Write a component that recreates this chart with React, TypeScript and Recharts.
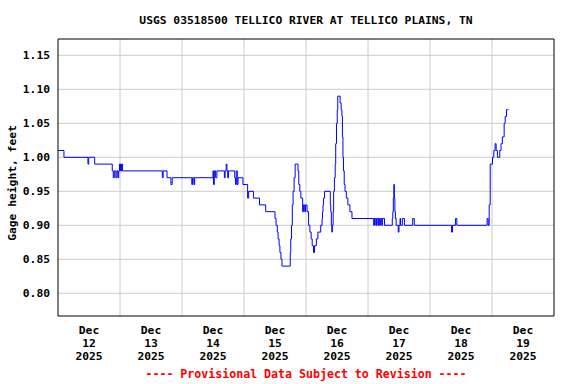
import { CartesianGrid, Line, LineChart, ReferenceArea, XAxis, YAxis } from 'recharts';

// hours since Dec 12 2025 00:00 where the gage height changes
const hours = [
  0, 2.3, 11.6, 11.9, 14.2, 21.0, 21.4, 21.8, 22.4, 22.8, 23.2, 23.5, 23.8, 24.2, 24.6, 25.0,
  40.4, 40.7, 42.2, 43.7, 44.2, 51.8, 52.1, 52.6, 52.9, 60.0, 60.2, 60.5, 61.0, 61.5, 64.4, 64.7,
  65.1, 65.4, 65.7, 66.0, 68.4, 68.7, 69.0, 69.4, 69.7, 71.6, 73.4, 73.8, 75.7, 78.0, 80.4, 84.0,
  84.4, 84.9, 85.2, 85.6, 85.9, 86.3, 86.7, 89.9, 90.1, 90.4, 90.7, 91.0, 91.4, 91.8, 92.9, 93.2,
  93.6, 94.0, 94.7, 95.0, 95.5, 95.8, 96.4, 97.0, 97.5, 98.0, 98.4, 98.9, 99.3, 100.0, 100.6, 101.7,
  102.2, 102.4, 102.6, 102.8, 103.2, 105.4, 105.6, 105.8, 106.0, 106.2, 106.5, 106.7, 107.0, 107.3,
  107.5, 107.8, 108.1, 108.3, 109.2, 109.6, 109.9, 110.1, 110.3, 110.5, 110.8, 111.1, 111.6, 112.2,
  113.0, 113.8, 122.2, 122.5, 123.0, 123.3, 123.8, 124.1, 124.5, 124.8, 125.3, 125.6, 126.4, 129.4,
  129.6, 129.8, 130.0, 130.2, 130.4, 130.6, 130.9, 131.7, 132.0, 132.4, 132.6, 133.3, 134.1, 137.3,
  137.9, 152.3, 152.7, 153.9, 154.4, 166.1, 166.5, 166.9, 167.3, 168.2, 168.7, 169.2, 169.6, 170.1,
  171.0, 171.5, 172.0, 172.7, 173.1, 173.6, 174.4,
];

const gageHeight = [
  1.01, 1.0, 0.99, 1.0, 0.99, 0.98, 0.97, 0.98, 0.97, 0.98, 0.97, 0.98, 0.99, 0.98, 0.99, 0.98,
  0.97, 0.98, 0.97, 0.96, 0.97, 0.96, 0.97, 0.96, 0.97, 0.98, 0.96, 0.98, 0.97, 0.98, 0.97, 0.98,
  0.99, 0.98, 0.97, 0.98, 0.97, 0.96, 0.98, 0.96, 0.97, 0.96, 0.94, 0.95, 0.94, 0.93, 0.92, 0.91,
  0.9, 0.89, 0.88, 0.87, 0.86, 0.85, 0.84, 0.86, 0.88, 0.9, 0.93, 0.95, 0.97, 0.99, 0.98, 0.96,
  0.95, 0.94, 0.92, 0.93, 0.92, 0.93, 0.92, 0.9, 0.89, 0.88, 0.87, 0.86, 0.87, 0.88, 0.89, 0.9,
  0.91, 0.92, 0.93, 0.94, 0.95, 0.93, 0.92, 0.9, 0.89, 0.9, 0.92, 0.95, 0.97, 0.99,
  1.02, 1.05, 1.07, 1.09, 1.08, 1.07, 1.06, 1.03, 1.0, 0.98, 0.96, 0.95, 0.94, 0.93,
  0.92, 0.91, 0.9, 0.91, 0.9, 0.91, 0.9, 0.91, 0.9, 0.91, 0.9, 0.91, 0.9, 0.91,
  0.92, 0.94, 0.96, 0.94, 0.92, 0.91, 0.9, 0.89, 0.9, 0.91, 0.9, 0.91, 0.9, 0.91,
  0.9, 0.89, 0.9, 0.91, 0.9, 0.91, 0.9, 0.93, 0.99, 1.0, 1.01, 1.02, 1.01, 1.0,
  1.01, 1.02, 1.03, 1.05, 1.06, 1.07, 1.07,
];

const dayLabels = ['12', '13', '14', '15', '16', '17', '18', '19'];
const labelHours = [12, 36, 60, 84, 108, 132, 156, 180];
const midnightHours = [24, 48, 72, 96, 120, 144, 168];
const yTicks = [0.8, 0.85, 0.9, 0.95, 1.0, 1.05, 1.1, 1.15];
const xDomain = [0, 192];
const yDomain = [0.7666, 1.174];

const data = hours.map((h, i) => ({ h, v: gageHeight[i] }));

const font = '"DejaVu Sans Mono", monospace';
const gridStroke = '#cccccc';

function DayTick({ x, y, index }: any) {
  return (
    <text x={x} y={y} textAnchor="middle" fontFamily={font} fontWeight="bold" fontSize={11.3} fill="#000">
      <tspan x={x} dy={10}>Dec</tspan>
      <tspan x={x} dy={13}>{dayLabels[index]}</tspan>
      <tspan x={x} dy={13}>2025</tspan>
    </text>
  );
}

export default function App() {
  return (
    <div style={{ position: 'absolute', left: 0, top: 0, width: 576, height: 384, background: '#fff' }}>
      <LineChart width={576} height={384} data={data} margin={{ top: 39, right: 22, bottom: 0, left: 0 }}>
        <CartesianGrid stroke={gridStroke} verticalValues={midnightHours} horizontalValues={yTicks} />
        <XAxis
          type="number"
          dataKey="h"
          domain={xDomain}
          ticks={labelHours}
          interval={0}
          height={68}
          tickLine={false}
          axisLine={false}
          tick={<DayTick />}
          allowDataOverflow
        />
        <YAxis
          domain={yDomain}
          ticks={yTicks}
          width={58}
          tickLine={false}
          axisLine={false}
          allowDataOverflow
          tickFormatter={(v: number) => v.toFixed(2)}
          tick={{ fontFamily: font, fontWeight: 'bold', fontSize: 11.3, fill: '#000' }}
        />
        <ReferenceArea
          x1={xDomain[0]}
          x2={xDomain[1]}
          y1={yDomain[0]}
          y2={yDomain[1]}
          fill="none"
          stroke="#000"
          strokeWidth={1}
          ifOverflow="visible"
        />
        <Line
          type="stepAfter"
          dataKey="v"
          stroke="#0000ff"
          strokeWidth={1}
          dot={false}
          isAnimationActive={false}
        />
      </LineChart>
      <svg width={576} height={384} style={{ position: 'absolute', left: 0, top: 0, pointerEvents: 'none' }}>
        <text x={306} y={24} textAnchor="middle" fontFamily={font} fontWeight="bold" fontSize={11.3} fill="#000">
          USGS 03518500 TELLICO RIVER AT TELLICO PLAINS, TN
        </text>
        <text
          x={16}
          y={183}
          transform="rotate(-90 16 183)"
          textAnchor="middle"
          fontFamily={font}
          fontWeight="bold"
          fontSize={11.3}
          fill="#000"
        >
          Gage height, feet
        </text>
        <text x={306} y={378} textAnchor="middle" fontFamily={font} fontWeight="bold" fontSize={11.6} fill="#ff0000">
          ---- Provisional Data Subject to Revision ----
        </text>
      </svg>
    </div>
  );
}
